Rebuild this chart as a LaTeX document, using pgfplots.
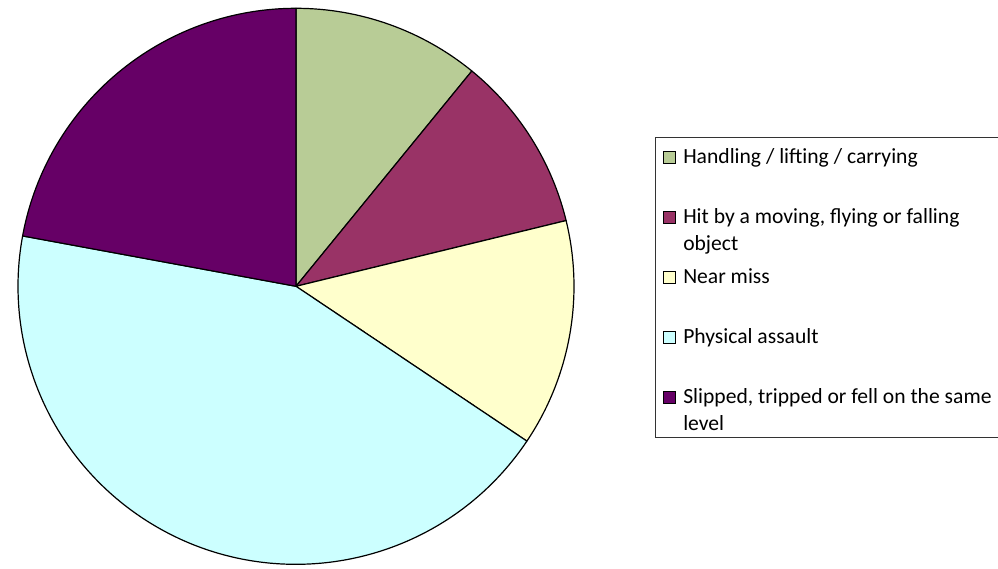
\documentclass[border=0pt]{standalone}
\usepackage{pgfplots}
\pgfplotsset{compat=1.18}
\usepackage{pgfplotstable}
\usepackage{fontspec}
\setmainfont{Carlito}

% slice colours, in legend order
\definecolor{c0}{RGB}{184,204,150}
\definecolor{c1}{RGB}{153,51,102}
\definecolor{c2}{RGB}{255,255,204}
\definecolor{c3}{RGB}{204,255,255}
\definecolor{c4}{RGB}{102,0,102}

% share of incidents by cause (percent)
\pgfplotstableread{
idx share
0 10.9
1 10.3
2 13.2
3 43.5
4 22.1
}\causes

% cumulative slice angles, clockwise from 12 o'clock
\def\angstart{90}
\pgfplotsforeachungrouped \i in {0,...,4}{%
  \pgfplotstablegetelem{\i}{share}\of\causes
  \pgfmathsetmacro\angend{\angstart-3.6*\pgfplotsretval}%
  \expandafter\let\csname sa\i\endcsname\angstart
  \expandafter\let\csname ea\i\endcsname\angend
  \let\angstart\angend
}

% legend text: up to two lines, 27pt apart
\newcommand\entry[2]{\parbox[t]{330pt}{\baselineskip=27pt\lineskip=0pt\strut #1\par\strut #2}}

\begin{document}
\begin{tikzpicture}
\useasboundingbox (0,0) rectangle (998pt,568pt);
\begin{axis}[
  at={(296pt,281.7pt)}, anchor=center,
  scale only axis, width=556pt, height=556pt,
  xmin=-1, xmax=1, ymin=-1, ymax=1,
  hide axis, clip=false,
  legend style={at={(1.1457,0.7685)}, anchor=north west,
    draw=black!80, line width=0.9pt,
    inner xsep=7.5pt, inner ysep=0pt, row sep=0pt, column sep=7pt,
    nodes={inner sep=0pt, anchor=base west, text height=19pt, text depth=41pt,
      font=\fontsize{21.6}{27}\selectfont}},
  legend image code/.code={\draw[#1, line width=0.8pt] (0pt,0pt) rectangle (12.5pt,12.5pt);},
]
\pgfplotsinvokeforeach{0,...,4}{%
  \fill[fill=c#1, draw=black, line width=1.2pt, line join=round]
    (axis cs:0,0) -- ++(\csname sa#1\endcsname:278pt)
    arc[start angle=\csname sa#1\endcsname, end angle=\csname ea#1\endcsname, radius=278pt]
    -- cycle;
}
\addlegendimage{fill=c0, draw=black}
\addlegendentry[text height=26pt]{\entry{Handling / lifting / carrying}{}}
\addlegendimage{fill=c1, draw=black}
\addlegendentry{\entry{Hit by a moving, flying or falling}{object}}
\addlegendimage{fill=c2, draw=black}
\addlegendentry{\entry{Near miss}{}}
\addlegendimage{fill=c3, draw=black}
\addlegendentry{\entry{Physical assault}{}}
\addlegendimage{fill=c4, draw=black}
\addlegendentry[text depth=34pt]{\entry{Slipped, tripped or fell on the same}{level}}
\end{axis}
\end{tikzpicture}
\end{document}
